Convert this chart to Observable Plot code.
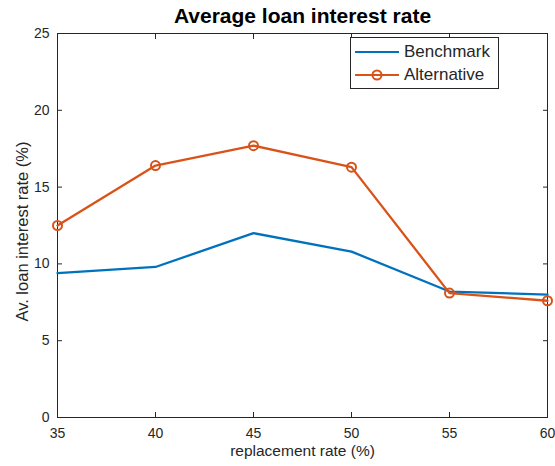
<!DOCTYPE html>
<html>
<head>
<meta charset="utf-8">
<script src="https://cdn.jsdelivr.net/npm/d3@7"></script>
<script src="https://cdn.jsdelivr.net/npm/@observablehq/plot@0.6"></script>
<style>
  body { margin: 0; background: #fff; font-family: "Liberation Sans", Arial, sans-serif; }
  #wrap { position: relative; width: 555px; height: 466px; }
  .legend {
    position: absolute; left: 350px; top: 37px; width: 149px; height: 52px;
    border: 1px solid #262626; background: #fff; box-sizing: border-box;
    font-size: 17px; color: #262626;
  }
  .legend .row { display: flex; align-items: center; height: 23px; margin-left: 4px; }
  .legend .row:first-child { margin-top: 2px; }
  .legend svg { margin-right: 5px; }
</style>
</head>
<body>
<div id="wrap"></div>
<script>
// Average loan interest rate (%) against the replacement rate (%)
const replacementRate = [35, 40, 45, 50, 55, 60];
const benchmark = [9.4, 9.8, 12.0, 10.8, 8.2, 8.0];
const alternative = [12.5, 16.4, 17.7, 16.3, 8.1, 7.6];
const xTicks = [35, 40, 45, 50, 55, 60];
const yTicks = [0, 5, 10, 15, 20, 25];
const seriesNames = ["Benchmark", "Alternative"];
const seriesColors = ["#0072BD", "#D95319"];

const rows = replacementRate.flatMap((r, i) => [
  {rate: r, value: benchmark[i], series: seriesNames[0]},
  {rate: r, value: alternative[i], series: seriesNames[1]}
]);
const altRows = rows.filter(d => d.series === seriesNames[1]);

const ink = "#262626";

const chart = Plot.plot({
  width: 555,
  height: 466,
  marginLeft: 57,
  marginRight: 8,
  marginTop: 33,
  marginBottom: 49,
  style: {fontFamily: "'Liberation Sans', Arial, sans-serif", fontSize: "14px", color: ink, background: "#fff"},
  x: {domain: [35, 60]},
  y: {domain: [0, 25]},
  color: {domain: seriesNames, range: seriesColors},
  marks: [
    // inward ticks on all four sides
    Plot.axisX(xTicks, {anchor: "bottom", tickSize: -5, tickPadding: 16, label: null, fontSize: 14}),
    Plot.axisX(xTicks, {anchor: "top", tickSize: -5, tickFormat: () => "", label: null}),
    Plot.axisY(yTicks, {anchor: "left", tickSize: -5, tickPadding: 13, label: null, fontSize: 14}),
    Plot.axisY(yTicks, {anchor: "right", tickSize: -5, tickFormat: () => "", label: null}),
    Plot.frame({stroke: ink, strokeWidth: 1}),
    Plot.line(rows, {x: "rate", y: "value", z: "series", stroke: "series", strokeWidth: 2.3}),
    Plot.dot(altRows, {x: "rate", y: "value", r: 4.5, stroke: "series", strokeWidth: 2, fill: "none"}),
    // title and axis labels
    Plot.text(["Average loan interest rate"], {frameAnchor: "top", textAnchor: "middle", dy: -25, fontWeight: "bold", fontSize: 21, fill: "#000"}),
    Plot.text(["replacement rate (%)"], {frameAnchor: "bottom", textAnchor: "middle", dy: 38, fontSize: 15.5, fill: ink}),
    Plot.text(["Av. loan interest rate (%)"], {frameAnchor: "left", textAnchor: "middle", dx: -35, dy: 6, rotate: -90, fontSize: 16.5, fill: ink})
  ]
});

const wrap = document.getElementById("wrap");
wrap.appendChild(chart);

// legend box in the upper right of the axes
const legend = document.createElement("div");
legend.className = "legend";
seriesNames.forEach((name, i) => {
  const row = document.createElement("div");
  row.className = "row";
  const marker = i === 1
    ? `<circle cx="22" cy="6" r="4.5" fill="none" stroke="${seriesColors[i]}" stroke-width="2"/>`
    : "";
  row.innerHTML =
    `<svg width="44" height="12"><line x1="0" x2="44" y1="6" y2="6" stroke="${seriesColors[i]}" stroke-width="2.2"/>${marker}</svg>` +
    `<span>${name}</span>`;
  legend.appendChild(row);
});
wrap.appendChild(legend);
</script>
</body>
</html>
